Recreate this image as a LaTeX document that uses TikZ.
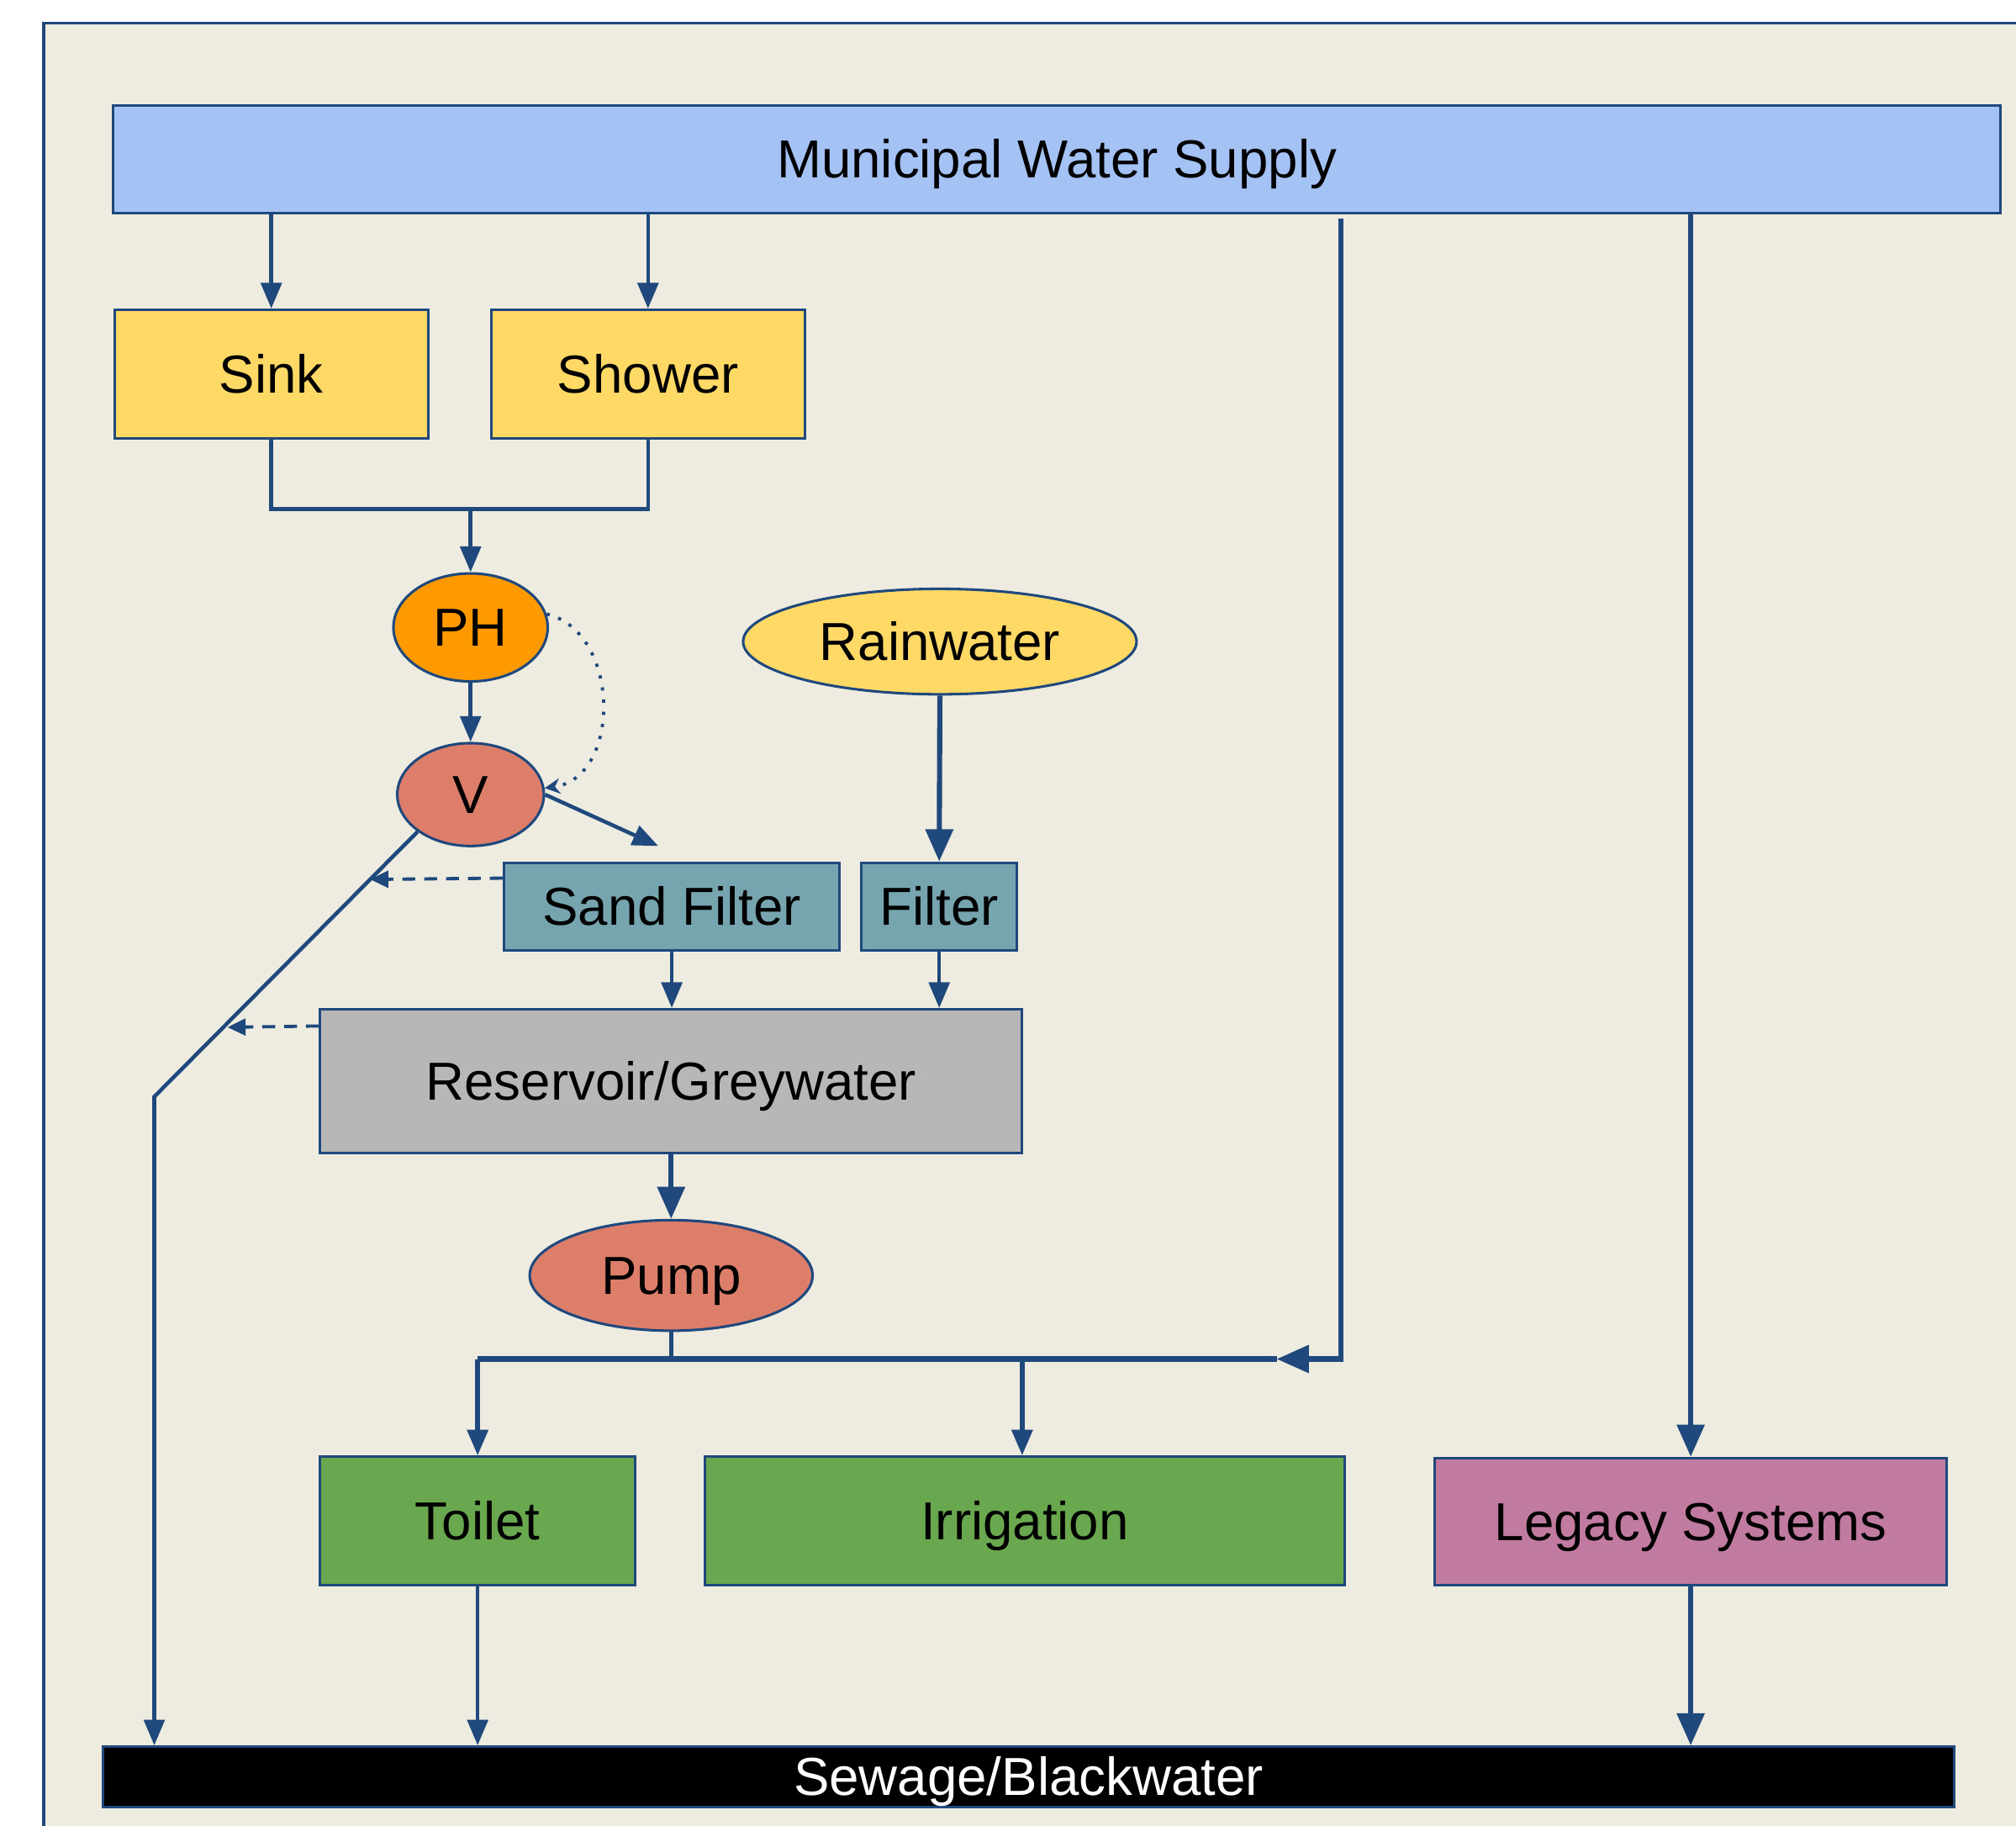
\documentclass[tikz,border=0pt]{standalone}
\usepackage{fontspec}
\setmainfont{Liberation Sans}
\usepackage{xcolor}
\usepackage{tikz}
\usetikzlibrary{arrows.meta,calc,shapes}

\definecolor{pipeblue}{RGB}{31,73,125}
\definecolor{paper}{RGB}{238,236,225}
\definecolor{mainsblue}{RGB}{164,194,244}
\definecolor{fixturegold}{RGB}{255,217,102}
\definecolor{phorange}{RGB}{255,153,0}
\definecolor{valvered}{RGB}{221,126,107}
\definecolor{filterteal}{RGB}{118,165,175}
\definecolor{tankgrey}{RGB}{183,183,183}
\definecolor{usegreen}{RGB}{106,168,79}
\definecolor{legacypink}{RGB}{194,123,160}

\begin{document}
\begin{tikzpicture}[x=1pt, y=-1pt,
  unit/.style={rectangle, draw=pipeblue, line width=2pt, inner sep=0pt, text height=29pt, text depth=0pt, font=\fontsize{41.6}{50}\selectfont},
  blob/.style={ellipse, draw=pipeblue, line width=2pt, inner sep=0pt, text height=29pt, text depth=0pt, font=\fontsize{41.6}{50}\selectfont},
  flow/.style={draw=pipeblue, line width=3pt, -{Triangle[length=20pt,width=16pt]}},
  mainflow/.style={draw=pipeblue, line width=4pt, -{Triangle[length=25pt,width=21pt]}},
  plain/.style={draw=pipeblue, line width=3pt},
  backwash/.style={draw=pipeblue, line width=2.5pt, dash pattern=on 10pt off 7pt, -{Triangle[length=14pt,width=13pt]}},
  control/.style={draw=pipeblue, line width=2.5pt, dash pattern=on 2.5pt off 7pt, -{Stealth[length=12pt,width=12pt]}}]

\useasboundingbox (0,0) rectangle (1568,1420);
\fill[paper] (34,18) rectangle (1568,1420);
\draw[pipeblue, line width=2pt] (34,1420) -- (34,18) -- (1568,18);

\node[unit, fill=mainsblue, minimum width=1468pt, minimum height=84pt] (mws) at (822,124) {Municipal Water Supply};
\node[unit, fill=fixturegold, minimum width=244pt, minimum height=100pt] (sink) at (211,291) {Sink};
\node[unit, fill=fixturegold, minimum width=244pt, minimum height=100pt] (shower) at (504,291) {Shower};
\node[blob, fill=phorange, minimum width=120pt, minimum height=84pt] (ph) at (366,488) {PH};
\node[blob, fill=valvered, minimum width=114pt, minimum height=80pt] (valve) at (366,618) {V};
\node[blob, fill=fixturegold, minimum width=306pt, minimum height=82pt] (rain) at (731,499) {Rainwater};
\node[unit, fill=filterteal, minimum width=261pt, minimum height=68pt] (sand) at (522.5,705) {Sand Filter};
\node[unit, fill=filterteal, minimum width=121pt, minimum height=68pt] (filt) at (730.5,705) {Filter};
\node[unit, fill=tankgrey, minimum width=546pt, minimum height=112pt] (res) at (522,841) {Reservoir/Greywater};
\node[blob, fill=valvered, minimum width=220pt, minimum height=86pt] (pump) at (522,992) {Pump};
\node[unit, fill=usegreen, minimum width=245pt, minimum height=100pt] (toilet) at (371.5,1183) {Toilet};
\node[unit, fill=usegreen, minimum width=498pt, minimum height=100pt] (irr) at (797,1183) {Irrigation};
\node[unit, fill=legacypink, minimum width=398pt, minimum height=99pt] (legacy) at (1315,1183.5) {Legacy Systems};
\node[unit, fill=black, text=white, minimum width=1440pt, minimum height=47pt] (sewage) at (800,1382) {Sewage/Blackwater};

\coordinate (drain) at (366,396);
\coordinate (vout) at (512,658);
\coordinate (bend) at (120,853);
\coordinate (sandback) at (288,684);
\coordinate (resback) at (177,799);
\coordinate (mtap) at (1043,170);
\coordinate (mjoin) at (993,1057);

% supply
\draw[flow] (sink |- mws.south) -- (sink.north);
\draw[flow] (shower |- mws.south) -- (shower.north);
\draw[mainflow] (legacy |- mws.south) -- (legacy.north);

% greywater
\draw[plain] (sink.south) |- (drain) -| (shower.south);
\draw[flow] (drain) -- (ph.north);
\draw[flow] (ph.south) -- (valve.north);
\draw[control] (ph.10) .. controls +(58,14) and +(60,-8) .. (valve.5);
\draw[flow] (valve.east) -- (vout);
\draw[flow] (valve.215) -- (bend) -- (bend |- sewage.north);
\draw[backwash] ($(sand.north west)+(0,13)$) -- (sandback);
\draw[backwash] ($(res.north west)+(0,14)$) -- (resback);
\draw[mainflow] (rain.south) -- (filt.north);
\draw[flow] (sand.south) -- (sand.south |- res.north);
\draw[flow] (filt.south) -- (filt.south |- res.north);
\draw[mainflow] (res.south) -- (pump.north);

% distribution
\draw[plain] (pump.south) -- (pump.south |- mjoin);
\draw[draw=pipeblue, line width=4.5pt] (toilet.north |- mjoin) -- (mjoin);
\draw[mainflow] (mtap) |- (mjoin);
\draw[flow, line width=3.5pt] (toilet.north |- mjoin) -- (toilet.north);
\draw[flow, line width=3.5pt] ($(irr.north |- mjoin)+(-2,0)$) -- ($(irr.north)+(-2,0)$);

% blackwater
\draw[flow] (toilet.south) -- (toilet.south |- sewage.north);
\draw[mainflow] (legacy.south) -- (legacy.south |- sewage.north);

\end{tikzpicture}
\end{document}
